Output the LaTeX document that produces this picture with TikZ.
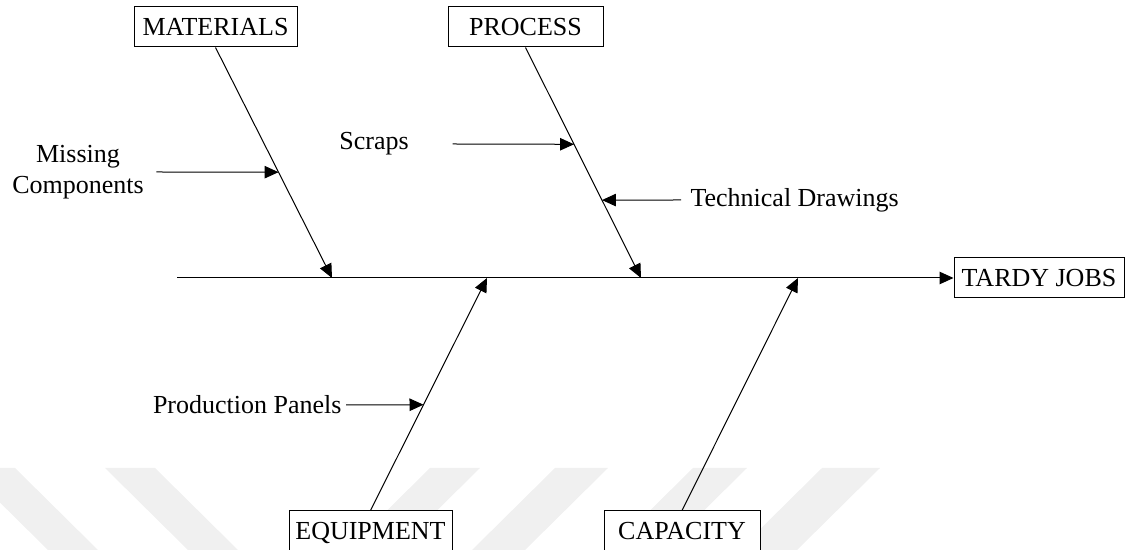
\documentclass[tikz,border=0pt]{standalone}
\usepackage{fontspec}
\setmainfont{Liberation Serif}
\usepackage{tikz}
\usetikzlibrary{calc}
\usetikzlibrary{arrows.meta}
\definecolor{wmgray}{gray}{0.94}
\begin{document}
\begin{tikzpicture}[
  x=0.4pt,
  y=-0.4pt,
  font=\fontsize{10.4}{12.4}\selectfont
]

  \path[use as bounding box] (0,0) rectangle (1125,550);

  \tikzstyle{causebox}=[draw,rectangle,fill=white,minimum height=16pt,inner sep=0pt,text height=6.9pt,text depth=0pt]
  \tikzstyle{effectbox}=[draw,rectangle,fill=white,minimum height=16pt,minimum width=68pt,inner sep=0pt,text height=6.9pt,text depth=0pt]
  \tikzstyle{causelab}=[inner sep=0pt,align=center]
  \tikzstyle{pointer}=[draw,-{Triangle[length=5.6pt,width=5pt]}]
  \tikzstyle{stripe}=[fill=wmgray]

  % watermark
  \fill[stripe] (-35,468) -- (15,468) -- (100,552) -- (50,552) -- cycle;
  \fill[stripe] (105,468) -- (155,468) -- (240,552) -- (190,552) -- cycle;
  \fill[stripe] (430,468) -- (480,468) -- (395,552) -- (345,552) -- cycle;
  \fill[stripe] (555,468) -- (608,468) -- (523,552) -- (470,552) -- cycle;
  \fill[stripe] (693,468) -- (747,468) -- (662,552) -- (608,552) -- cycle;
  \fill[stripe] (822,468) -- (880,468) -- (795,552) -- (737,552) -- cycle;

  % spine points
  \coordinate (spine) at (177,278);
  \coordinate (mtip) at (332,278);
  \coordinate (etip) at (487,278);
  \coordinate (ptip) at (641,278);
  \coordinate (ctip) at (798,278);

  % nodes
  \node[causebox,minimum width=65.2pt] (mat) at (215.5,27) {MATERIALS};
  \node[causebox,minimum width=62pt] (proc) at (525.5,27) {PROCESS};
  \node[causebox,minimum width=65.2pt] (equip) at (370.5,531) {EQUIPMENT};
  \node[causebox,minimum width=62.4pt] (cap) at (682,531) {CAPACITY};
  \node[effectbox] (tardy) at (1039,278) {TARDY JOBS};

  \node[causelab] (mc) at (78,172) {Missing\\Components};
  \node[causelab] (scraps) at (374,144) {Scraps};
  \node[causelab,anchor=west] (td) at (690,200) {Technical Drawings};
  \node[causelab,anchor=east] (pp) at (342,405) {Production Panels};

  % bones
  \draw[pointer] (spine) -- (tardy.west);
  \draw[pointer] (mat.south) -- (mtip);
  \draw[pointer] (proc.south) -- (ptip);
  \draw[pointer] (equip.north) -- (etip);
  \draw[pointer] (cap.north) -- (ctip);

  % causes
  \coordinate (mcpt) at ($(mat.south)!0.541!(mtip)$);
  \coordinate (scpt) at ($(proc.south)!0.42!(ptip)$);
  \coordinate (tdpt) at ($(proc.south)!0.662!(ptip)$);
  \coordinate (pppt) at ($(equip.north)!0.455!(etip)$);

  \draw[pointer] ([xshift=4.9pt]mc.east) -- (mcpt);
  \draw[pointer] ([xshift=17.4pt]scraps.east) -- (scpt);
  \draw[pointer] ([xshift=-3.6pt]td.west) -- (tdpt);
  \draw[pointer] ([xshift=1.6pt]pp.east) -- (pppt);

\end{tikzpicture}
\end{document}
